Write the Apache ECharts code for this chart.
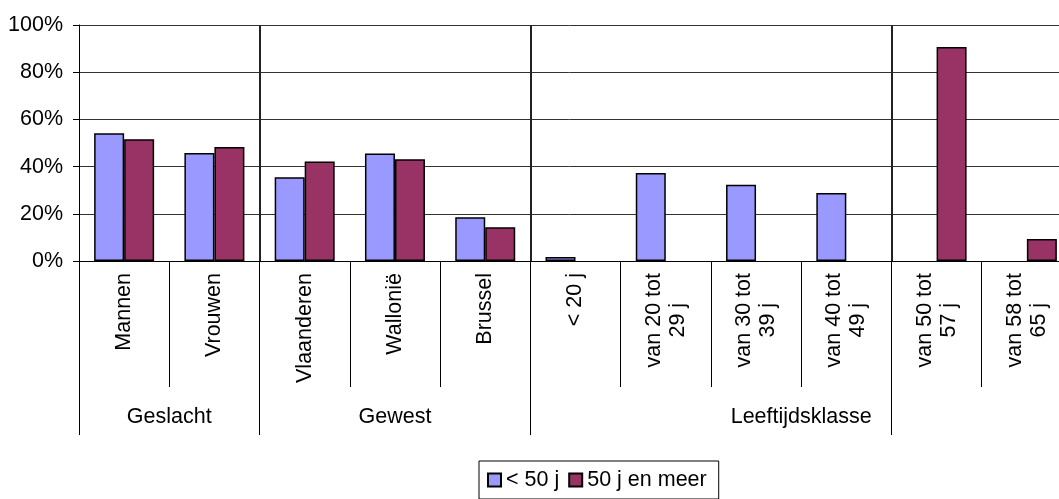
<!DOCTYPE html>
<html>
<head>
<meta charset="utf-8">
<script src="https://cdn.jsdelivr.net/npm/echarts@6/dist/echarts.min.js"></script>
<style>
  html, body { margin: 0; padding: 0; background: #fff; }
  #chart { width: 1059px; height: 499px; }
</style>
</head>
<body>
<div id="chart"></div>
<script>
var categories = ['Mannen', 'Vrouwen', 'Vlaanderen', 'Wallonië', 'Brussel', '< 20 j',
  'van 20 tot\n29 j', 'van 30 tot\n39 j', 'van 40 tot\n49 j', 'van 50 tot\n57 j', 'van 58 tot\n65 j'];
var under50 = [54.1, 45.8, 35.5, 45.6, 18.5, 1.7, 37.3, 32.3, 28.8, null, null];
var over50 = [51.6, 48.3, 42.2, 43.1, 14.3, null, null, null, null, 90.7, 9.3];
var seriesNames = ['< 50 j', '50 j en meer'];
// group labels sit on a half-step axis (23 points over the 11 categories)
var groupSlots = ['', '', 'Geslacht', '', '', '', '', 'Gewest', '', '', '', '', '', '', '', '', 'Leeftijdsklasse', '', '', '', '', '', ''];
var groupEdges = [0, 4, 10, 18, 22];

(function() {
  var font = '"Liberation Sans", Arial, sans-serif';
  var fs = 21.5;
  var chart = echarts.init(document.getElementById('chart'), null, {renderer: 'canvas'});
  var isEdge = function(i) { return groupEdges.indexOf(i) >= 0; };

  chart.setOption({
    animation: false,
    textStyle: {fontFamily: font},
    grid: {left: 79, top: 25, width: 993, height: 236, outerBoundsMode: 'none', containLabel: false},
    legend: {
      data: seriesNames, left: 479, top: 461, orient: 'horizontal',
      padding: [8, 12, 8, 8], itemGap: 9, itemWidth: 13, itemHeight: 13, icon: 'rect',
      borderColor: '#000', borderWidth: 1,
      textStyle: {fontFamily: font, fontSize: fs, color: '#000'}
    },
    xAxis: [{
      type: 'category', data: categories, position: 'bottom',
      axisLine: {lineStyle: {color: '#000', width: 1}},
      axisTick: {show: true, interval: 0, length: 126, lineStyle: {color: '#000', width: 1}},
      axisLabel: {
        interval: 0, rotate: 90, margin: 12, fontSize: fs, color: '#000', fontFamily: font,
        formatter: function(v) {
          return v.split('\n').map(function(s) { return '{c|' + s + '}'; }).join('\n');
        },
        rich: {c: {align: 'center', fontSize: fs, lineHeight: 24, fontFamily: font, color: '#000'}}
      },
      splitLine: {show: false}
    }, {
      type: 'category', data: groupSlots, position: 'bottom', boundaryGap: false,
      axisLine: {show: false},
      axisTick: {show: true, length: 174, interval: function(i) { return isEdge(i); },
        lineStyle: {color: '#000', width: 1}},
      axisLabel: {interval: 0, margin: 145, fontSize: fs, color: '#000', fontFamily: font},
      splitLine: {show: true, interval: function(i) { return isEdge(i) && i > 0; },
        lineStyle: {color: '#222', width: 2}}
    }],
    yAxis: {
      type: 'value', min: 0, max: 100, interval: 20,
      axisLine: {show: true, lineStyle: {color: '#000', width: 1}},
      axisTick: {show: true, length: 6, lineStyle: {color: '#000'}},
      axisLabel: {formatter: '{value}%', fontSize: fs, color: '#000', margin: 16, fontFamily: font},
      splitLine: {lineStyle: {color: '#333', width: 1}}
    },
    series: [
      {name: seriesNames[0], type: 'bar', data: under50, barWidth: 30, barGap: '0%',
        itemStyle: {color: '#9999FF', borderColor: '#000', borderWidth: 1.5}},
      {name: seriesNames[1], type: 'bar', data: over50, barWidth: 30, barGap: '0%',
        itemStyle: {color: '#993366', borderColor: '#000', borderWidth: 1.5}}
    ]
  });
})();
</script>
</body>
</html>
